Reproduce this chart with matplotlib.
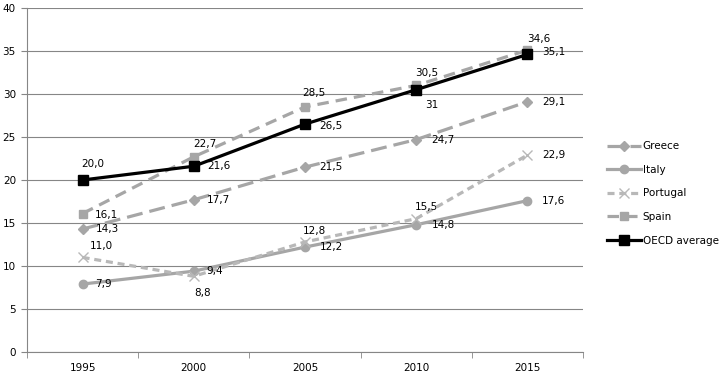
import matplotlib
matplotlib.use("Agg")
import matplotlib.pyplot as plt

years = ["1995", "2000", "2005", "2010", "2015"]
greece = [14.3, 17.7, 21.5, 24.7, 29.1]
italy = [7.9, 9.4, 12.2, 14.8, 17.6]
portugal = [11.0, 8.8, 12.8, 15.5, 22.9]
spain = [16.1, 22.7, 28.5, 31.0, 35.1]
oecd = [20.0, 21.6, 26.5, 30.5, 34.6]

greece_lbl = ["14,3", "17,7", "21,5", "24,7", "29,1"]
italy_lbl = ["7,9", "9,4", "12,2", "14,8", "17,6"]
portugal_lbl = ["11,0", "8,8", "12,8", "15,5", "22,9"]
spain_lbl = ["16,1", "22,7", "28,5", "31", "35,1"]
oecd_lbl = ["20,0", "21,6", "26,5", "30,5", "34,6"]

# label offsets in pixels (dx, dy up positive)
R = (25, 0)
off = {
    "Greece": [R, R, (26, 0), (27, 0), (26, 0)],
    "Italy": [(21, 0), (21, 0), (26, 0), (27, 0), (26, 0)],
    "Portugal": [(19, 11), (9, -17), (9, 11), (10, 12), (26, 0)],
    "Spain": [(24, -1), (11, 13), (9, 14), (16, -20), (26, -2)],
    "OECD average": [(10, 16), (25, 0), (26, -2), (11, 17), (11, 15)],
}

fig = plt.figure(figsize=(7.21, 3.78), dpi=100)
ax = fig.add_axes([27 / 721, 26 / 378, (583 - 27) / 721, (352 - 8) / 378])

x = list(range(len(years)))
gray = "#A6A6A6"
series = [
    ("Greece", greece, greece_lbl, dict(color=gray, lw=2.3, marker="D", ms=5, dashes=(5, 2.2))),
    ("Italy", italy, italy_lbl, dict(color=gray, lw=2.3, marker="o", ms=6)),
    ("Portugal", portugal, portugal_lbl, dict(color="#B8B8B8", lw=2.3, marker="x", ms=6.5, mew=1, dashes=(2.2, 1.5))),
    ("Spain", spain, spain_lbl, dict(color=gray, lw=2.3, marker="s", ms=6, dashes=(3.6, 2.2))),
    ("OECD average", oecd, oecd_lbl, dict(color="black", lw=2.3, marker="s", ms=6.5)),
]

for name, vals, lbls, st in series:
    ax.plot(x, vals, label=name, zorder=3, **st)
    for i, (v, t) in enumerate(zip(vals, lbls)):
        dx, dy = off[name][i]
        ax.annotate(t, (i, v), xytext=(dx, dy), textcoords="offset pixels",
                    ha="center", va="center", fontsize=7.5, color="black", zorder=4)

ax.set_xlim(-0.5, 4.5)
ax.set_ylim(0, 40)
ax.set_yticks(range(0, 41, 5))
ax.set_xticks(x)
ax.set_xticklabels(years)
ax.set_xticks([i - 0.5 for i in range(6)], minor=True)
ax.tick_params(axis="x", which="major", length=0, pad=8, labelsize=7.5)
ax.tick_params(axis="x", which="minor", length=4, color="#868686", direction="out")
ax.tick_params(axis="y", length=4, color="#868686", pad=4, labelsize=7.5)
ax.grid(axis="y", color="#868686", lw=0.8)
ax.set_axisbelow(True)
for s in ["top", "right"]:
    ax.spines[s].set_visible(False)
for s in ["left", "bottom"]:
    ax.spines[s].set_color("#868686")
    ax.spines[s].set_linewidth(0.8)

fig.legend(loc="upper left", bbox_to_anchor=(598 / 721, 1 - 132 / 378), frameon=False,
           fontsize=7.5, handlelength=3.2, labelspacing=1.3, handletextpad=0.2)

fig.savefig("out.png", dpi=100)
